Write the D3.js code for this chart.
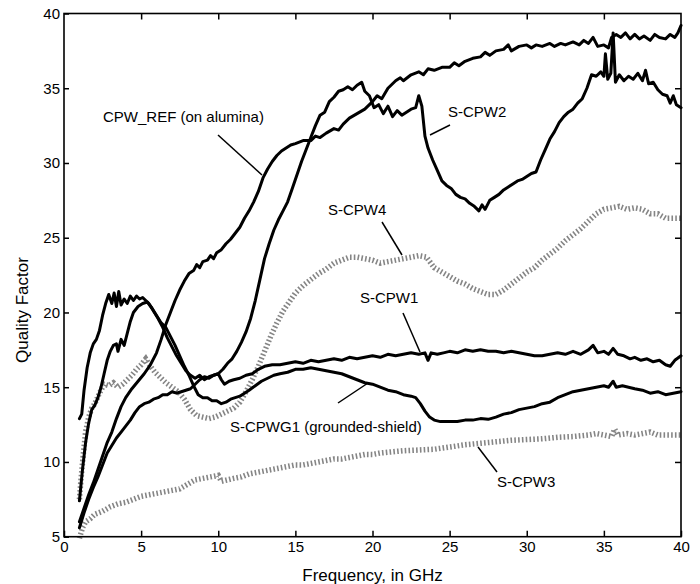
<!DOCTYPE html>
<html>
<head>
<meta charset="utf-8">
<script src="https://cdn.jsdelivr.net/npm/d3@7"></script>
<style>
  html, body { margin: 0; padding: 0; background: #fff; }
  svg { display: block; }
  text { font-family: "Liberation Sans", Arial, Helvetica, sans-serif; fill: #000; }
</style>
</head>
<body>
<svg id="chart" width="700" height="584"></svg>
<script>
// ---------------- data (frequency GHz, quality factor) ----------------
const xTicks = [0, 5, 10, 15, 20, 25, 30, 35, 40];
const yTicks = [5, 10, 15, 20, 25, 30, 35, 40];

const cpwRef = [[1.0,6.0],[1.3,6.9],[1.6,7.8],[1.9,8.6],[2.2,9.5],[2.5,10.4],[2.8,11.3],[3.1,12.0],[3.4,12.9],[3.7,13.7],[4.0,14.3],[4.4,14.9],[4.8,15.4],[5.2,15.9],[5.6,16.5],[6.0,17.3],[6.3,18.2],[6.6,19.2],[6.9,20.0],[7.2,20.8],[7.5,21.5],[7.8,22.1],[8.1,22.6],[8.4,22.8],[8.6,23.2],[8.8,23.0],[9.0,23.4],[9.3,23.5],[9.5,23.8],[9.7,23.6],[9.9,24.0],[10.2,24.2],[10.5,24.6],[10.8,24.9],[11.1,25.3],[11.4,25.7],[11.7,26.3],[12.0,26.8],[12.3,27.4],[12.6,28.1],[12.9,29.0],[13.2,29.6],[13.5,30.1],[13.8,30.5],[14.1,30.8],[14.4,31.0],[14.7,31.2],[15.0,31.3],[15.5,31.5],[16.0,31.5],[16.3,31.8],[16.6,31.7],[17.0,32.0],[17.5,32.3],[17.8,32.2],[18.1,32.6],[18.5,33.0],[19.0,33.3],[19.5,33.6],[20.0,34.1],[20.3,34.5],[20.6,34.3],[21.0,35.0],[21.5,35.5],[21.8,35.7],[22.0,35.5],[22.5,35.9],[23.0,36.1],[23.3,35.9],[23.6,36.3],[24.0,36.2],[24.5,36.4],[25.0,36.4],[25.3,36.7],[25.6,36.5],[26.0,36.8],[26.5,37.0],[27.0,37.1],[27.3,37.4],[27.6,37.2],[28.0,37.5],[28.5,37.6],[28.8,37.9],[29.0,37.5],[29.5,37.8],[30.0,37.9],[30.3,37.7],[30.6,37.9],[31.0,37.8],[31.5,38.0],[31.8,37.8],[32.2,38.0],[32.5,37.9],[33.0,38.1],[33.4,37.9],[33.7,38.2],[34.0,38.0],[34.3,38.4],[34.6,37.8],[35.0,37.9],[35.3,37.7],[35.5,38.4],[35.8,38.6],[36.1,38.4],[36.4,38.7],[36.7,38.3],[37.0,38.6],[37.3,38.3],[37.6,38.5],[38.0,38.2],[38.3,38.6],[38.6,38.4],[39.0,38.3],[39.3,38.6],[39.6,38.4],[39.8,38.7],[40.0,39.2]];

const sCpw2 = [[1.0,12.9],[1.15,13.2],[1.3,14.8],[1.5,16.3],[1.7,17.3],[1.9,17.9],[2.1,18.2],[2.3,18.8],[2.5,19.8],[2.7,20.6],[2.9,21.2],[3.1,20.6],[3.25,21.3],[3.4,20.4],[3.55,21.4],[3.7,20.5],[3.9,20.9],[4.1,20.6],[4.3,21.1],[4.5,20.8],[4.7,21.1],[4.9,20.9],[5.1,21.0],[5.3,20.8],[5.5,20.6],[5.8,20.1],[6.1,19.6],[6.4,19.0],[6.7,18.3],[7.0,17.7],[7.3,17.1],[7.6,16.6],[7.9,16.1],[8.2,15.8],[8.5,15.6],[8.8,15.8],[9.1,15.5],[9.4,15.7],[9.7,15.8],[10.0,15.9],[10.3,16.2],[10.6,16.6],[10.9,16.9],[11.2,17.4],[11.5,18.0],[11.8,18.7],[12.1,19.6],[12.4,20.8],[12.7,22.2],[13.0,23.6],[13.3,24.6],[13.6,25.5],[13.9,26.2],[14.2,26.8],[14.5,27.4],[14.8,28.3],[15.1,29.2],[15.4,30.1],[15.7,30.9],[16.0,31.7],[16.3,32.5],[16.6,33.2],[16.9,33.4],[17.2,34.1],[17.5,34.4],[17.8,34.8],[18.1,34.9],[18.4,35.1],[18.7,34.9],[19.0,35.2],[19.3,35.4],[19.5,34.8],[19.8,34.5],[20.1,33.7],[20.4,33.9],[20.7,33.3],[21.0,33.8],[21.3,33.1],[21.6,33.5],[21.9,33.2],[22.2,33.4],[22.5,33.6],[22.8,33.7],[23.0,34.5],[23.2,33.8],[23.4,31.8],[23.6,31.0],[23.9,30.2],[24.2,29.5],[24.5,28.8],[24.8,28.5],[25.1,28.3],[25.4,27.9],[25.7,27.7],[26.0,27.6],[26.3,27.3],[26.6,27.1],[26.9,26.8],[27.1,27.2],[27.3,26.9],[27.6,27.5],[27.9,27.7],[28.2,27.9],[28.5,28.2],[28.8,28.4],[29.1,28.6],[29.4,28.8],[29.7,28.9],[30.0,29.1],[30.3,29.3],[30.6,29.4],[30.9,30.2],[31.2,30.9],[31.5,31.6],[31.8,32.1],[32.1,32.7],[32.4,33.1],[32.7,33.4],[33.0,33.6],[33.3,34.0],[33.6,34.3],[33.9,35.0],[34.2,35.9],[34.5,35.8],[34.8,36.1],[35.0,35.8],[35.1,37.3],[35.25,35.6],[35.45,36.0],[35.6,38.7],[35.75,35.4],[36.0,35.9],[36.3,35.5],[36.6,35.8],[36.9,35.6],[37.2,36.0],[37.5,35.5],[37.7,36.2],[37.9,35.3],[38.2,35.4],[38.5,34.9],[38.8,34.6],[39.1,34.5],[39.3,34.0],[39.5,34.5],[39.7,33.9],[40.0,33.7]];

const sCpwg1 = [[1.0,7.4],[1.2,9.5],[1.4,11.3],[1.6,12.6],[1.8,13.5],[2.0,13.8],[2.2,14.3],[2.4,15.0],[2.6,15.9],[2.8,16.8],[3.0,17.4],[3.2,17.8],[3.4,17.9],[3.5,17.4],[3.7,18.2],[3.9,17.8],[4.1,18.6],[4.3,19.4],[4.5,20.0],[4.8,20.4],[5.1,20.6],[5.4,20.7],[5.7,20.3],[6.0,19.8],[6.3,19.3],[6.6,19.0],[6.9,18.4],[7.2,17.8],[7.5,17.1],[7.8,16.4],[8.1,15.8],[8.4,15.1],[8.7,14.5],[9.0,14.3],[9.3,14.3],[9.6,14.1],[9.9,14.1],[10.2,13.9],[10.5,14.0],[10.8,14.2],[11.1,14.3],[11.4,14.4],[11.7,14.6],[12.0,14.8],[12.4,15.1],[12.8,15.4],[13.2,15.6],[13.6,15.8],[14.0,15.9],[14.5,16.0],[15.0,16.2],[15.5,16.2],[16.0,16.3],[16.5,16.2],[17.0,16.1],[17.5,16.0],[18.0,15.9],[18.5,15.7],[19.0,15.5],[19.5,15.3],[20.0,15.2],[20.5,15.0],[21.0,14.8],[21.5,14.7],[22.0,14.5],[22.5,14.4],[22.8,14.3],[23.1,13.9],[23.4,13.4],[23.7,13.0],[24.0,12.8],[24.4,12.7],[25.0,12.7],[25.5,12.7],[26.0,12.8],[26.5,12.8],[27.0,12.9],[27.5,12.85],[28.0,13.0],[28.5,13.2],[29.0,13.3],[29.5,13.5],[30.0,13.6],[30.5,13.7],[31.0,13.9],[31.5,14.0],[32.0,14.3],[32.5,14.5],[33.0,14.7],[33.5,14.8],[34.0,14.9],[34.5,15.0],[35.0,15.1],[35.3,15.0],[35.6,15.4],[35.8,15.0],[36.2,15.1],[36.6,15.0],[37.0,14.9],[37.5,14.8],[38.0,14.6],[38.5,14.7],[39.0,14.5],[39.5,14.6],[40.0,14.7]];

const sCpw1 = [[1.0,5.6],[1.3,6.6],[1.6,7.5],[1.9,8.3],[2.2,9.0],[2.5,9.8],[2.8,10.6],[3.1,11.1],[3.4,11.6],[3.7,12.0],[4.0,12.4],[4.3,12.8],[4.6,13.3],[4.9,13.7],[5.2,13.9],[5.5,14.0],[5.8,14.2],[6.1,14.3],[6.4,14.5],[6.7,14.5],[7.0,14.7],[7.3,14.6],[7.6,14.7],[7.9,14.8],[8.2,14.9],[8.5,15.2],[8.8,15.5],[9.1,15.7],[9.4,15.6],[9.7,15.8],[10.0,15.9],[10.2,15.5],[10.4,15.2],[10.7,15.4],[11.0,15.5],[11.4,15.6],[11.8,15.8],[12.2,15.9],[12.6,16.2],[13.0,16.4],[13.5,16.5],[14.0,16.5],[14.5,16.6],[15.0,16.7],[15.5,16.6],[16.0,16.8],[16.5,16.7],[17.0,16.8],[17.5,16.9],[18.0,16.8],[18.5,17.0],[19.0,16.9],[19.5,17.0],[20.0,17.1],[20.5,17.0],[21.0,17.2],[21.5,17.1],[22.0,17.2],[22.5,17.3],[23.0,17.2],[23.4,17.3],[23.6,16.8],[23.8,17.3],[24.2,17.2],[24.6,17.3],[25.0,17.4],[25.5,17.3],[26.0,17.5],[26.5,17.4],[27.0,17.5],[27.5,17.4],[28.0,17.4],[28.5,17.3],[29.0,17.4],[29.5,17.3],[30.0,17.2],[30.5,17.1],[31.0,17.1],[31.5,17.2],[32.0,17.3],[32.5,17.2],[33.0,17.4],[33.5,17.2],[34.0,17.5],[34.3,17.8],[34.6,17.3],[35.0,17.4],[35.3,17.2],[35.6,17.6],[35.9,17.2],[36.3,17.1],[36.7,16.9],[37.0,17.0],[37.4,16.8],[37.8,16.9],[38.2,16.7],[38.6,16.8],[39.0,16.5],[39.3,16.4],[39.6,16.8],[40.0,17.1]];

const sCpw4 = [[1.0,7.5],[1.1,8.8],[1.25,10.5],[1.4,12.0],[1.6,13.0],[1.8,13.6],[2.0,13.9],[2.3,14.6],[2.6,15.2],[2.9,15.1],[3.2,15.3],[3.5,15.0],[3.8,15.2],[4.1,15.5],[4.4,15.8],[4.7,16.2],[5.0,16.5],[5.3,16.9],[5.6,16.4],[5.9,16.0],[6.2,15.7],[6.6,15.3],[7.0,15.0],[7.4,14.7],[7.8,14.2],[8.2,13.5],[8.6,13.1],[9.0,13.0],[9.4,12.9],[9.8,13.0],[10.2,13.2],[10.6,13.4],[11.0,13.6],[11.4,14.0],[11.8,14.7],[12.2,15.5],[12.6,16.4],[13.0,17.4],[13.4,18.4],[13.8,19.3],[14.2,20.1],[14.6,20.7],[15.0,21.3],[15.5,21.8],[16.0,22.2],[16.5,22.6],[17.0,22.9],[17.5,23.3],[18.0,23.5],[18.5,23.7],[19.0,23.7],[19.5,23.6],[20.0,23.5],[20.5,23.3],[21.0,23.4],[21.5,23.5],[22.0,23.6],[22.5,23.7],[23.0,23.8],[23.5,23.7],[24.0,23.0],[24.5,22.7],[25.0,22.4],[25.5,22.1],[26.0,21.9],[26.5,21.6],[27.0,21.4],[27.5,21.2],[28.0,21.2],[28.5,21.5],[29.0,21.9],[29.5,22.3],[30.0,22.7],[30.5,23.0],[31.0,23.5],[31.5,23.9],[32.0,24.3],[32.5,24.8],[33.0,25.2],[33.5,25.6],[34.0,26.1],[34.5,26.6],[35.0,26.9],[35.5,27.0],[36.0,27.1],[36.5,26.9],[37.0,27.0],[37.5,26.9],[38.0,26.6],[38.5,26.6],[39.0,26.3],[39.5,26.3],[40.0,26.3]];

const sCpw3 = [[1.0,4.9],[1.2,5.6],[1.4,6.0],[1.7,6.2],[2.0,6.5],[2.5,6.7],[3.0,7.0],[3.5,7.2],[4.0,7.3],[4.5,7.5],[5.0,7.7],[5.5,7.8],[6.0,7.9],[6.5,8.0],[7.0,8.1],[7.5,8.2],[8.0,8.5],[8.5,8.8],[9.0,8.9],[9.5,9.0],[10.0,9.1],[10.2,8.7],[10.6,8.8],[11.0,8.9],[11.5,9.0],[12.0,9.2],[12.5,9.3],[13.0,9.4],[13.5,9.5],[14.0,9.6],[14.5,9.7],[15.0,9.8],[15.5,9.8],[16.0,9.9],[16.5,10.0],[17.0,10.1],[17.5,10.2],[18.0,10.2],[18.5,10.3],[19.0,10.4],[19.5,10.5],[20.0,10.5],[20.5,10.6],[21.0,10.65],[22.0,10.75],[23.0,10.8],[24.0,10.85],[25.0,11.0],[26.0,11.15],[27.0,11.25],[28.0,11.35],[29.0,11.45],[30.0,11.5],[31.0,11.55],[32.0,11.65],[33.0,11.7],[34.0,11.8],[34.5,11.9],[35.0,11.8],[35.5,11.7],[35.7,12.2],[35.9,11.8],[36.5,11.9],[37.0,11.8],[37.5,11.9],[38.0,12.0],[38.5,11.8],[39.0,11.8],[39.5,11.8],[40.0,11.8]];

const labels = ["CPW_REF (on alumina)", "S-CPW2", "S-CPW4", "S-CPW1", "S-CPWG1 (grounded-shield)", "S-CPW3"];

// ---------------- drawing ----------------
const W = 700, H = 584;
const m = {left: 64, right: 19, top: 13.5, bottom: 47.3};
const svg = d3.select("#chart");

const x = d3.scaleLinear().domain([0, 40]).range([m.left, W - m.right]);
const y = d3.scaleLinear().domain([5, 40]).range([H - m.bottom, m.top]);

const line = d3.line().x(d => x(d[0])).y(d => y(d[1]));

const plot = svg.append("g");

function drawGray(data) {
  plot.append("path").datum(data).attr("d", line)
    .attr("fill", "none").attr("stroke", "#858585")
    .attr("stroke-width", 5.5).attr("stroke-dasharray", "1.6,2.2")
    .attr("stroke-linejoin", "miter");
}
function drawBlack(data) {
  plot.append("path").datum(data).attr("d", line)
    .attr("fill", "none").attr("stroke", "#000")
    .attr("stroke-width", 3).attr("stroke-linejoin", "round").attr("stroke-linecap", "round");
}
drawGray(sCpw3);
drawGray(sCpw4);
drawBlack(sCpwg1);
drawBlack(sCpw1);
drawBlack(cpwRef);
drawBlack(sCpw2);

// axes
const fs = "15px";
const gx = svg.append("g").attr("transform", `translate(0,${y(5)})`)
  .call(d3.axisBottom(x).tickValues(xTicks).tickSizeInner(-6).tickSizeOuter(0).tickPadding(5));
gx.selectAll("text").style("font-size", fs).attr("font-family", null);
const gy = svg.append("g").attr("transform", `translate(${x(0)},0)`)
  .call(d3.axisLeft(y).tickValues(yTicks).tickSizeInner(-5).tickSizeOuter(0).tickPadding(4));
gy.selectAll("text").style("font-size", fs).attr("font-family", null);
const gt = svg.append("g").attr("transform", `translate(0,${y(40)})`)
  .call(d3.axisTop(x).tickValues(xTicks.slice(1, -1)).tickSizeInner(-6).tickSizeOuter(0).tickFormat(""));
const gr = svg.append("g").attr("transform", `translate(${x(40)},0)`)
  .call(d3.axisRight(y).tickValues(yTicks.slice(1, -1)).tickSizeInner(-6).tickSizeOuter(0).tickFormat(""));
[gx, gy, gt, gr].forEach(g => {
  g.select(".domain").remove();
  g.selectAll("line").attr("stroke", "#000").attr("stroke-width", 1.5);
});
svg.append("rect").attr("x", x(0)).attr("y", y(40))
  .attr("width", x(40) - x(0)).attr("height", y(5) - y(40))
  .attr("fill", "none").attr("stroke", "#000").attr("stroke-width", 1.6);

// axis titles
svg.append("text").attr("x", (x(0) + x(40)) / 2).attr("y", 581)
  .attr("text-anchor", "middle").style("font-size", "17px").text("Frequency, in GHz");
svg.append("text").attr("transform", `translate(28,310) rotate(-90)`)
  .attr("text-anchor", "middle").style("font-size", "17px").text("Quality Factor");

// annotations: [label, textX, textY, lineX1, lineY1, lineX2, lineY2]
const ann = [
  [labels[0], 103, 122, 218, 135, 262, 175],
  [labels[1], 448, 117, 450, 125, 430, 135],
  [labels[2], 328, 215, 382, 222, 402, 255],
  [labels[3], 360, 303, 403, 313, 420, 352],
  [labels[4], 230, 432, 338, 403, 368, 383],
  [labels[5], 497, 487, 478, 447, 497, 472]
];
ann.forEach(a => {
  svg.append("text").attr("x", a[1]).attr("y", a[2]).style("font-size", fs).text(a[0]);
  svg.append("line").attr("x1", a[3]).attr("y1", a[4]).attr("x2", a[5]).attr("y2", a[6])
    .attr("stroke", "#000").attr("stroke-width", 1.5);
});
</script>
</body>
</html>
